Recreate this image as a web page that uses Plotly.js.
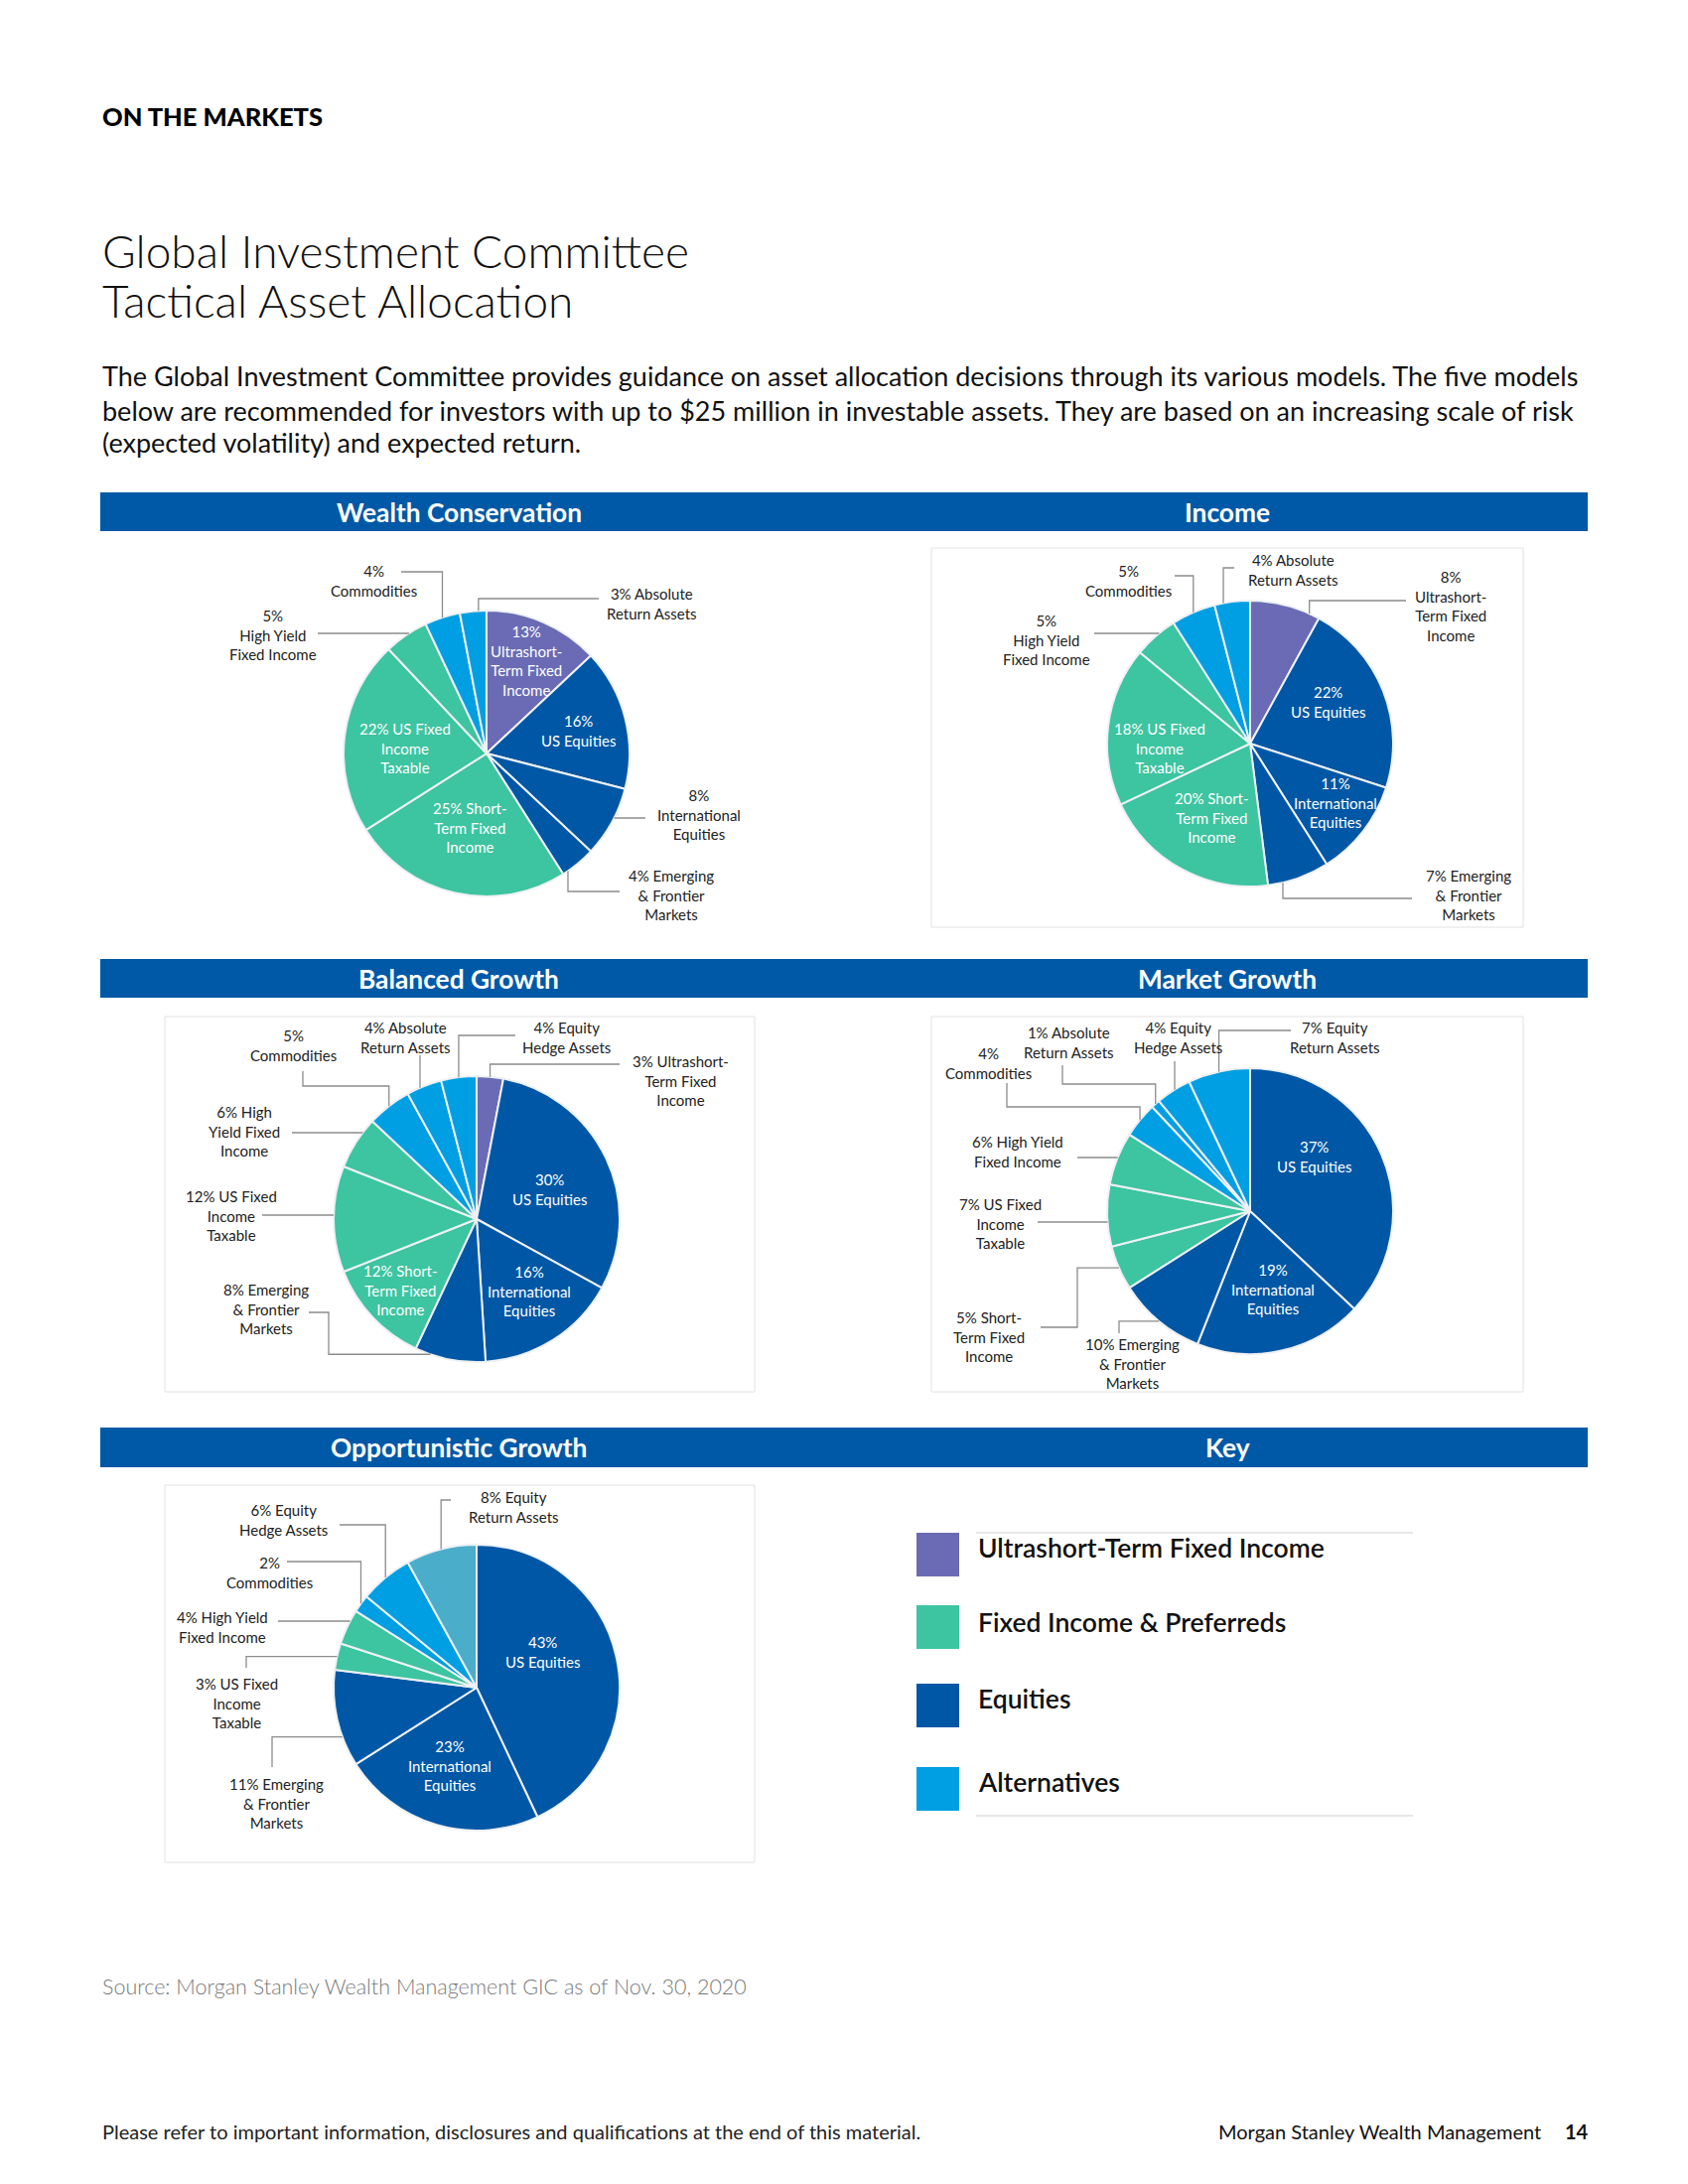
<!DOCTYPE html>
<html>
<head>
<meta charset="utf-8">
<script src="https://cdn.plot.ly/plotly-3.0.1.min.js"></script>
<style>
  html, body { margin: 0; padding: 0; background: #ffffff; }
  #chart { width: 1700px; height: 2200px; }
</style>
</head>
<body>
<div id="chart"></div>
<script>
// ---------------- DATA ----------------
const classColors = { U: '#6A6BB4', F: '#3DC4A0', E: '#0057A5', A: '#009FE3', R: '#4AAECB' };

const keyNames = ['Ultrashort-Term Fixed Income', 'Fixed Income & Preferreds', 'Equities', 'Alternatives'];
const keyClasses = ['U', 'F', 'E', 'A'];

// Wealth Conservation
const wcNames = ['Ultrashort-Term Fixed Income', 'US Equities', 'International Equities', 'Emerging & Frontier Markets',
  'Short-Term Fixed Income', 'US Fixed Income Taxable', 'High Yield Fixed Income', 'Commodities', 'Absolute Return Assets'];
const wcValues = [13, 16, 8, 4, 25, 22, 5, 4, 3];
const wcClasses = ['U', 'E', 'E', 'E', 'F', 'F', 'F', 'A', 'A'];
const wcText = ['{v}<br>Ultrashort-<br>Term Fixed<br>Income', '{v}<br>US Equities', '{v}<br>International<br>Equities',
  '{v} Emerging<br>& Frontier<br>Markets', '{v} Short-<br>Term Fixed<br>Income', '{v} US Fixed<br>Income<br>Taxable',
  '{v}<br>High Yield<br>Fixed Income', '{v}<br>Commodities', '{v} Absolute<br>Return Assets'];

// Income
const inNames = ['Ultrashort-Term Fixed Income', 'US Equities', 'International Equities', 'Emerging & Frontier Markets',
  'Short-Term Fixed Income', 'US Fixed Income Taxable', 'High Yield Fixed Income', 'Commodities', 'Absolute Return Assets'];
const inValues = [8, 22, 11, 7, 20, 18, 5, 5, 4];
const inClasses = ['U', 'E', 'E', 'E', 'F', 'F', 'F', 'A', 'A'];
const inText = ['{v}<br>Ultrashort-<br>Term Fixed<br>Income', '{v}<br>US Equities', '{v}<br>International<br>Equities',
  '{v} Emerging<br>& Frontier<br>Markets', '{v} Short-<br>Term Fixed<br>Income', '{v} US Fixed<br>Income<br>Taxable',
  '{v}<br>High Yield<br>Fixed Income', '{v}<br>Commodities', '{v} Absolute<br>Return Assets'];

// Balanced Growth
const bgNames = ['Ultrashort-Term Fixed Income', 'US Equities', 'International Equities', 'Emerging & Frontier Markets',
  'Short-Term Fixed Income', 'US Fixed Income Taxable', 'High Yield Fixed Income', 'Commodities',
  'Absolute Return Assets', 'Equity Hedge Assets'];
const bgValues = [3, 30, 16, 8, 12, 12, 6, 5, 4, 4];
const bgClasses = ['U', 'E', 'E', 'E', 'F', 'F', 'F', 'A', 'A', 'A'];
const bgText = ['{v} Ultrashort-<br>Term Fixed<br>Income', '{v}<br>US Equities', '{v}<br>International<br>Equities',
  '{v} Emerging<br>& Frontier<br>Markets', '{v} Short-<br>Term Fixed<br>Income', '{v} US Fixed<br>Income<br>Taxable',
  '{v} High<br>Yield Fixed<br>Income', '{v}<br>Commodities', '{v} Absolute<br>Return Assets', '{v} Equity<br>Hedge Assets'];

// Market Growth
const mgNames = ['US Equities', 'International Equities', 'Emerging & Frontier Markets', 'Short-Term Fixed Income',
  'US Fixed Income Taxable', 'High Yield Fixed Income', 'Commodities', 'Absolute Return Assets',
  'Equity Hedge Assets', 'Equity Return Assets'];
const mgValues = [37, 19, 10, 5, 7, 6, 4, 1, 4, 7];
const mgClasses = ['E', 'E', 'E', 'F', 'F', 'F', 'A', 'A', 'A', 'A'];
const mgText = ['{v}<br>US Equities', '{v}<br>International<br>Equities', '{v} Emerging<br>& Frontier<br>Markets',
  '{v} Short-<br>Term Fixed<br>Income', '{v} US Fixed<br>Income<br>Taxable', '{v} High Yield<br>Fixed Income',
  '{v}<br>Commodities', '{v} Absolute<br>Return Assets', '{v} Equity<br>Hedge Assets', '{v} Equity<br>Return Assets'];

// Opportunistic Growth
const ogNames = ['US Equities', 'International Equities', 'Emerging & Frontier Markets', 'US Fixed Income Taxable',
  'High Yield Fixed Income', 'Commodities', 'Equity Hedge Assets', 'Equity Return Assets'];
const ogValues = [43, 23, 11, 3, 4, 2, 6, 8];
const ogClasses = ['E', 'E', 'E', 'F', 'F', 'A', 'A', 'R'];
const ogText = ['{v}<br>US Equities', '{v}<br>International<br>Equities', '{v} Emerging<br>& Frontier<br>Markets',
  '{v} US Fixed<br>Income<br>Taxable', '{v} High Yield<br>Fixed Income', '{v}<br>Commodities',
  '{v} Equity<br>Hedge Assets', '{v} Equity<br>Return Assets'];

// ---------------- LAYOUT CONFIG (positions in page px) ----------------
const W = 1700, H = 2200;
const px = x => x / W;
const py = y => 1 - y / H;
const FONT = 'Lato, "Noto Sans", sans-serif';

const charts = [
  { title: 'Wealth Conservation', names: wcNames, values: wcValues, classes: wcClasses, text: wcText,
    cx: 490, cy: 759, r: 144,
    labels: [
      { inside: true, x: 530, y: 665 },
      { inside: true, x: 582, y: 736 },
      { x: 704, y: 820, L: { s: [650, 824], d: 'h', straight: true } },
      { x: 676, y: 901, L: { s: [624, 898], d: 'h', f: 0.84 } },
      { inside: true, x: 473, y: 833 },
      { inside: true, x: 408, y: 753 },
      { x: 275, y: 639, L: { s: [320, 638], d: 'h', straight: true } },
      { x: 376, y: 585, L: { s: [404, 576], d: 'h' } },
      { x: 656, y: 608, L: { s: [603, 603], d: 'h', f: 0.7 } }
    ] },
  { title: 'Income', names: inNames, values: inValues, classes: inClasses, text: inText,
    cx: 1259, cy: 749, r: 144,
    labels: [
      { x: 1461, y: 610, L: { s: [1416, 605], d: 'h', f: 0.85 } },
      { inside: true, x: 1337, y: 707 },
      { inside: true, x: 1345, y: 809 },
      { x: 1479, y: 901, L: { s: [1422, 905], d: 'h', f: 0.76 } },
      { inside: true, x: 1220, y: 824 },
      { inside: true, x: 1168, y: 753 },
      { x: 1054, y: 644, L: { s: [1102, 638], d: 'h', straight: true } },
      { x: 1136, y: 585, L: { s: [1183, 580], d: 'h' } },
      { x: 1302, y: 574, L: { s: [1243, 572], d: 'h', f: 0.25 } }
    ] },
  { title: 'Balanced Growth', names: bgNames, values: bgValues, classes: bgClasses, text: bgText,
    cx: 480, cy: 1228, r: 144,
    labels: [
      { x: 685, y: 1088, L: { s: [624, 1072], d: 'h' } },
      { inside: true, x: 553, y: 1198 },
      { inside: true, x: 533, y: 1300 },
      { x: 268, y: 1318, L: { s: [311, 1322], d: 'h', k: [331], f: 0.78 } },
      { inside: true, x: 403, y: 1299 },
      { x: 233, y: 1224, L: { s: [264, 1224], d: 'h', straight: true } },
      { x: 246, y: 1139, L: { s: [294, 1141], d: 'h', straight: true } },
      { x: 295, y: 1053, L: { s: [305, 1079], d: 'v', k: [1094] } },
      { x: 408, y: 1045, L: { s: [423, 1063], d: 'v', straight: true } },
      { x: 570, y: 1045, L: { s: [519, 1043], d: 'h' } }
    ] },
  { title: 'Market Growth', names: mgNames, values: mgValues, classes: mgClasses, text: mgText,
    cx: 1259, cy: 1220, r: 144,
    labels: [
      { inside: true, x: 1323, y: 1165 },
      { inside: true, x: 1282, y: 1298 },
      { x: 1140, y: 1373, L: { s: [1127, 1343], d: 'v' } },
      { x: 996, y: 1346, L: { s: [1048, 1337], d: 'h', k: [1085] } },
      { x: 1008, y: 1232, L: { s: [1045, 1231], d: 'h', straight: true } },
      { x: 1025, y: 1160, L: { s: [1085, 1166], d: 'h', straight: true } },
      { x: 995, y: 1071, L: { s: [1014, 1091], d: 'v', k: [1115] } },
      { x: 1076, y: 1050, L: { s: [1070, 1073], d: 'v', k: [1092] } },
      { x: 1186, y: 1045, L: { s: [1183, 1069], d: 'v', straight: true } },
      { x: 1344, y: 1045, L: { s: [1300, 1038], d: 'h' } }
    ] },
  { title: 'Opportunistic Growth', names: ogNames, values: ogValues, classes: ogClasses, text: ogText,
    cx: 480, cy: 1700, r: 144,
    labels: [
      { inside: true, x: 546, y: 1664 },
      { inside: true, x: 453, y: 1778 },
      { x: 278, y: 1816, L: { s: [274, 1780], d: 'v', f: 0.31 } },
      { x: 238, y: 1715, L: { s: [248, 1680], d: 'v' } },
      { x: 224, y: 1639, L: { s: [280, 1633], d: 'h', straight: true } },
      { x: 271, y: 1584, L: { s: [289, 1573], d: 'h' } },
      { x: 285, y: 1531, L: { s: [342, 1536], d: 'h' } },
      { x: 517, y: 1518, L: { s: [454, 1511], d: 'h' } }
    ] }
];

const bars = [
  { y0: 496, y1: 535, left: 'Wealth Conservation', right: 'Income' },
  { y0: 966, y1: 1005, left: 'Balanced Growth', right: 'Market Growth' },
  { y0: 1438, y1: 1478, left: 'Opportunistic Growth', right: 'Key' }
];
const boxes = [
  [938, 552, 1534, 934], [166, 1024, 760, 1402], [938, 1024, 1534, 1402], [166, 1496, 760, 1876]
];

// ---------------- BUILD ----------------
const traces = [];
const shapes = [];
const annotations = [];

function ann(text, x, y, opts) {
  annotations.push(Object.assign({
    text: text, x: px(x), y: py(y), xref: 'paper', yref: 'paper', showarrow: false,
    xanchor: 'center', yanchor: 'middle', align: 'center',
    font: { family: FONT, size: 15, color: '#222' }
  }, opts || {}));
}

function edgePoint(c, i, f) {
  const tot = c.values.reduce((a, b) => a + b, 0);
  let cum = 0;
  for (let j = 0; j < i; j++) cum += c.values[j];
  const th = (cum + c.values[i] * f) / tot * 2 * Math.PI;
  return [c.cx + c.r * Math.sin(th), c.cy - c.r * Math.cos(th)];
}

function leader(c, i, spec) {
  let P = spec.s.slice();
  const pts = [P.slice()];
  let d = spec.d;
  (spec.k || []).forEach(k => {
    P = d === 'h' ? [k, P[1]] : [P[0], k];
    pts.push(P.slice());
    d = d === 'h' ? 'v' : 'h';
  });
  if (spec.straight) {
    if (d === 'h') {
      const dy = P[1] - c.cy;
      const dx = Math.sqrt(Math.max(c.r * c.r - dy * dy, 0));
      pts.push([P[0] < c.cx ? c.cx - dx : c.cx + dx, P[1]]);
    } else {
      const dx = P[0] - c.cx;
      const dy = Math.sqrt(Math.max(c.r * c.r - dx * dx, 0));
      pts.push([P[0], P[1] < c.cy ? c.cy - dy : c.cy + dy]);
    }
  } else {
    const E = edgePoint(c, i, spec.f == null ? 0.5 : spec.f);
    pts.push(d === 'h' ? [E[0], P[1]] : [P[0], E[1]]);
    pts.push(E);
  }
  const path = 'M ' + pts.map(p => px(p[0]).toFixed(6) + ',' + py(p[1]).toFixed(6)).join(' L ');
  shapes.push({ type: 'path', xref: 'paper', yref: 'paper', path: path,
    line: { color: '#8c8c8c', width: 1.3 }, layer: 'above' });
}

boxes.forEach(b => shapes.push({ type: 'rect', xref: 'paper', yref: 'paper',
  x0: px(b[0]), x1: px(b[2]), y0: py(b[3]), y1: py(b[1]),
  line: { color: '#e2e2e2', width: 1 }, fillcolor: 'rgba(0,0,0,0)', layer: 'below' }));

bars.forEach(b => {
  shapes.push({ type: 'rect', xref: 'paper', yref: 'paper', x0: px(101), x1: px(1599),
    y0: py(b.y1), y1: py(b.y0), line: { width: 0 }, fillcolor: '#0059A6', layer: 'below' });
  const yc = (b.y0 + b.y1) / 2;
  ann(b.left, 462, yc, { font: { family: FONT, size: 26.3, color: '#ffffff', weight: 700 } });
  ann(b.right, 1236, yc, { font: { family: FONT, size: 26.3, color: '#ffffff', weight: 700 } });
});

charts.forEach(c => {
  traces.push({
    type: 'pie', values: c.values, labels: c.names, sort: false, direction: 'clockwise', rotation: 0,
    textinfo: 'none', hoverinfo: 'skip', showlegend: false,
    marker: { colors: c.classes.map(k => classColors[k]), line: { color: '#eef1f4', width: 2 } },
    domain: { x: [px(c.cx - c.r), px(c.cx + c.r)], y: [py(c.cy + c.r), py(c.cy - c.r)] }
  });
  c.labels.forEach((lb, i) => {
    const txt = c.text[i].replace('{v}', c.values[i] + '%');
    ann(txt, lb.x, lb.y, { font: { family: FONT, size: 15, color: lb.inside ? '#ffffff' : '#222222' } });
    if (lb.L) leader(c, i, lb.L);
  });
});

const keyTop = [1544, 1617, 1696, 1780];
const keyTextY = [1559, 1634, 1711, 1795];
keyNames.forEach((n, i) => {
  shapes.push({ type: 'rect', xref: 'paper', yref: 'paper', x0: px(923), x1: px(966),
    y0: py(keyTop[i] + 44), y1: py(keyTop[i]), line: { width: 0 }, fillcolor: classColors[keyClasses[i]] });
  ann(n, 983, keyTextY[i], { xanchor: 'left', align: 'left',
    font: { family: FONT, size: 26.5, color: '#111', weight: 600 } });
});
[1544, 1829].forEach(y => shapes.push({ type: 'line', xref: 'paper', yref: 'paper',
  x0: px(983), x1: px(1423), y0: py(y), y1: py(y), line: { color: '#d0d0d0', width: 1.2 } }));

ann('ON THE MARKETS', 101, 117, { xanchor: 'left', align: 'left',
  font: { family: FONT, size: 25.5, color: '#000', weight: 900 } });
ann('Global Investment Committee', 101, 253, { xanchor: 'left', align: 'left',
  font: { family: FONT, size: 46, color: '#111', weight: 300 } });
ann('Tactical Asset Allocation', 101, 303, { xanchor: 'left', align: 'left',
  font: { family: FONT, size: 46, color: '#111', weight: 300 } });
const para = [
  'The Global Investment Committee provides guidance on asset allocation decisions through its various models. The five models',
  'below are recommended for investors with up to $25 million in investable assets. They are based on an increasing scale of risk',
  '(expected volatility) and expected return.'
];
[379, 413, 445].forEach((y, i) => ann(para[i], 101, y, { xanchor: 'left', align: 'left',
  font: { family: FONT, size: 27, color: '#111', weight: 400 } }));
ann('Source: Morgan Stanley Wealth Management GIC as of Nov. 30, 2020', 101, 2001, { xanchor: 'left', align: 'left',
  font: { family: FONT, size: 21.5, color: '#7a7a7a', weight: 300 } });
ann('Please refer to important information, disclosures and qualifications at the end of this material.', 101, 2147,
  { xanchor: 'left', align: 'left', font: { family: FONT, size: 20, color: '#222', weight: 400 } });
ann('Morgan Stanley Wealth Management', 1554, 2147, { xanchor: 'right', align: 'right',
  font: { family: FONT, size: 20, color: '#111', weight: 400 } });
ann('14', 1602, 2147, { xanchor: 'right', align: 'right',
  font: { family: FONT, size: 20, color: '#111', weight: 700 } });

const layout = {
  width: W, height: H, margin: { l: 0, r: 0, t: 0, b: 0 },
  paper_bgcolor: '#ffffff', plot_bgcolor: '#ffffff',
  showlegend: false, shapes: shapes, annotations: annotations
};

Plotly.newPlot('chart', traces, layout, { displayModeBar: false, staticPlot: true });
</script>
</body>
</html>
